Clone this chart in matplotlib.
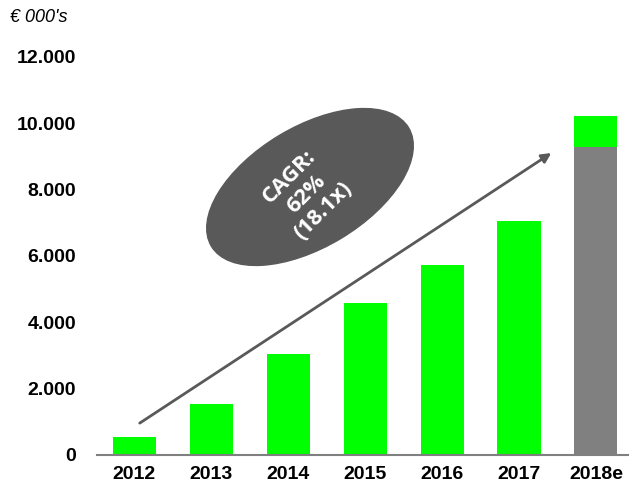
import matplotlib
matplotlib.use("Agg")
import matplotlib.pyplot as plt
from matplotlib.patches import Ellipse

years = ["2012", "2013", "2014", "2015", "2016", "2017", "2018e"]
green_vals = [540, 1540, 3040, 4580, 5720, 7050, 930]
grey_vals = [0, 0, 0, 0, 0, 0, 9280]
yticks = [0, 2000, 4000, 6000, 8000, 10000, 12000]

GREEN = "#00FF00"
GREY = "#808080"
DARK = "#595959"

plt.rcParams["font.family"] = ["Liberation Sans", "DejaVu Sans"]

fig = plt.figure(figsize=(6.29, 4.94), dpi=100)
ax = fig.add_axes([0.154, 0.079, 0.846, 0.806])

x = list(range(len(years)))
ax.bar(x, grey_vals, 0.56, color=GREY)
ax.bar(x, green_vals, 0.56, bottom=grey_vals, color=GREEN)

ax.set_xlim(-0.487, 6.43)
ax.set_ylim(0, 12000)
ax.set_xticks(x)
ax.set_xticklabels(years, fontsize=14, fontweight="bold")
ax.set_yticks(yticks)
ax.set_yticklabels([f"{v:,}".replace(",", ".") for v in yticks],
                   fontsize=14, fontweight="bold")
ax.tick_params(length=0)
ax.tick_params(axis="y", pad=15)
ax.tick_params(axis="x", pad=8)
for s in ["top", "right", "left"]:
    ax.spines[s].set_visible(False)
ax.spines["bottom"].set_color(GREY)
ax.spines["bottom"].set_linewidth(1.5)

# growth arrow
ax.annotate("", xy=(5.42, 9100), xytext=(0.07, 960),
            arrowprops=dict(arrowstyle="-|>", color=DARK, lw=2,
                            mutation_scale=14, shrinkA=0, shrinkB=0))

# CAGR bubble (pixel positions via inches)
cx, cy = 3.10, (494 - 187) / 100
ell = Ellipse((cx, cy), 2.30, 1.20, angle=31, color=DARK,
              transform=fig.dpi_scale_trans, zorder=5)
fig.patches.append(ell)
fig.text(3.06, (494 - 194) / 100, "CAGR:\n62%\n(18.1x)",
         transform=fig.dpi_scale_trans,
         ha="center", va="center", rotation=45, color="white",
         fontsize=16, fontweight="bold",
         family=["Open Sans", "DejaVu Sans"],
         linespacing=1.2, zorder=6)

fig.text(0.016, 0.955, "€ 000's", fontsize=13, style="italic")

fig.savefig("out.png", dpi=100)
